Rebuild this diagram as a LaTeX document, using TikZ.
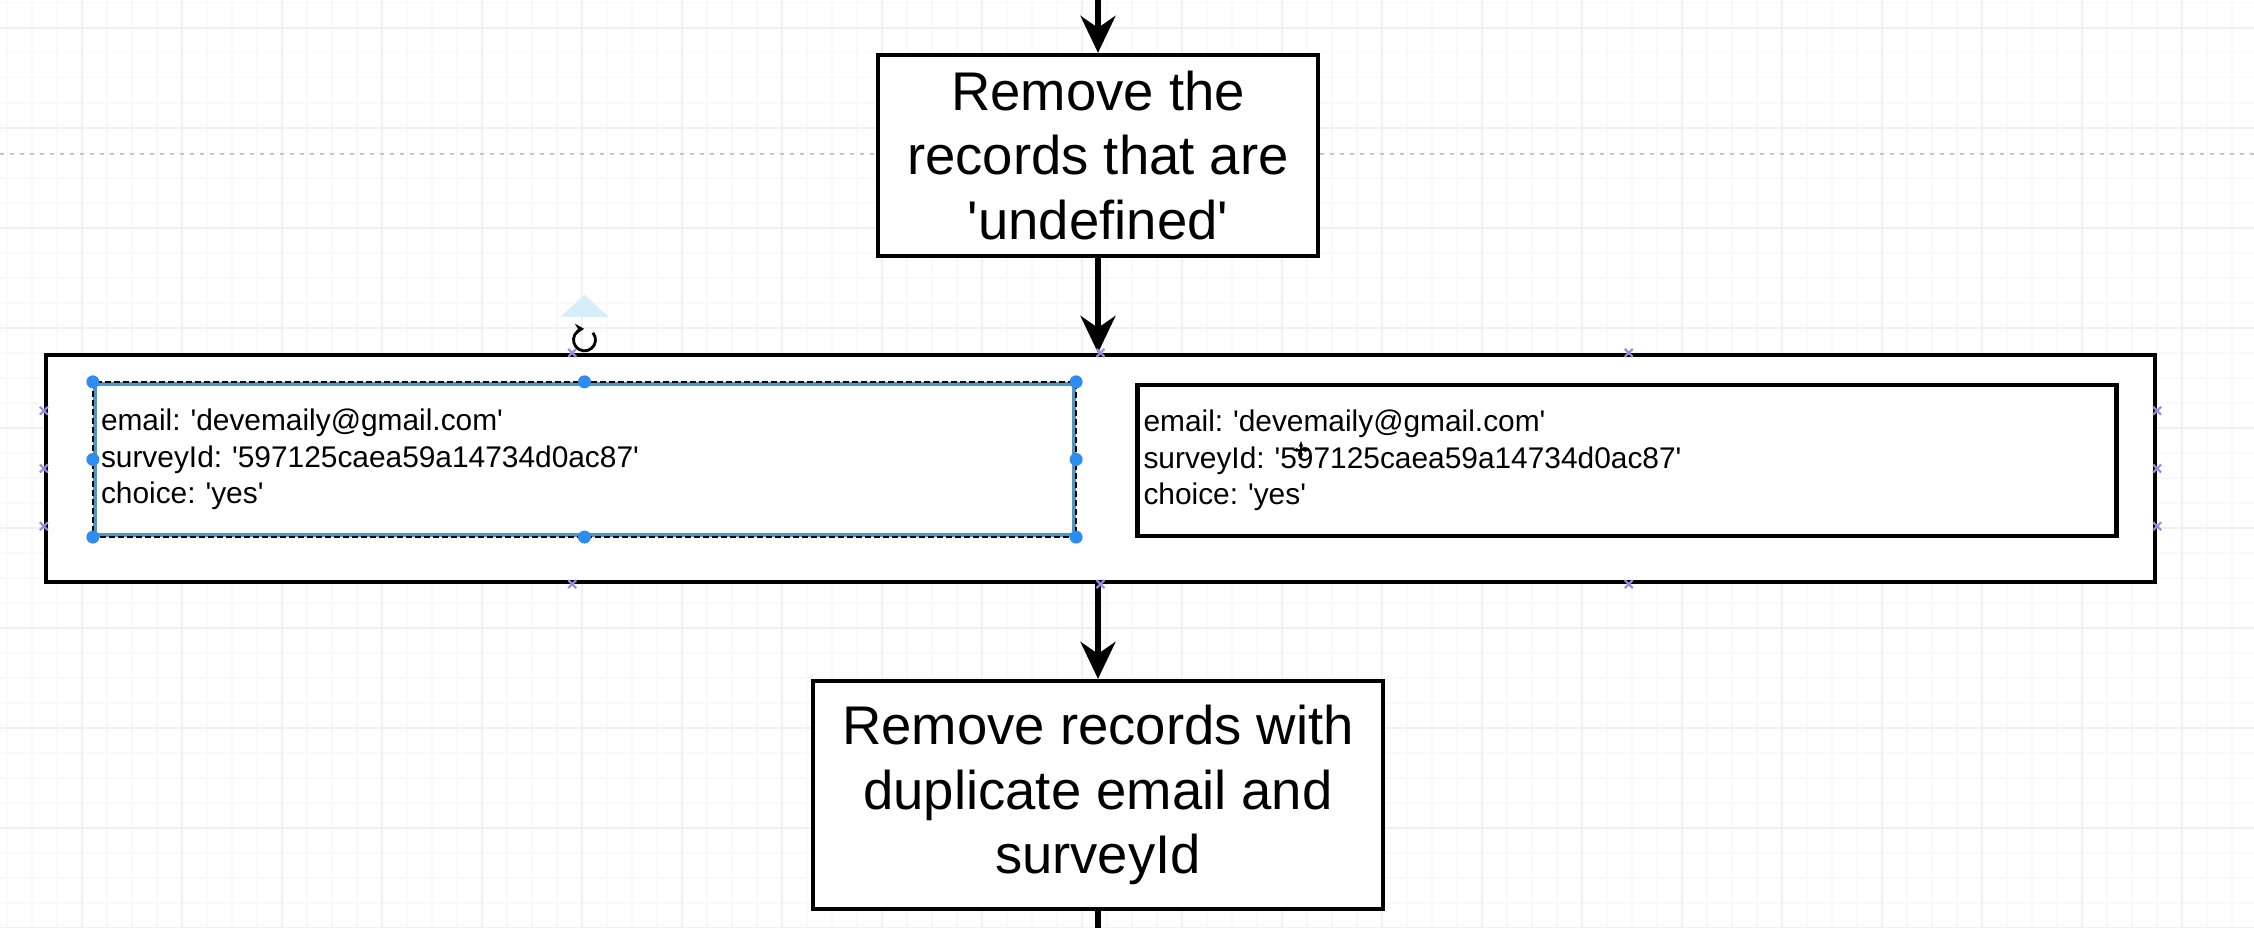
\documentclass[tikz,border=0pt]{standalone}
\usepackage{fontspec}
\setmainfont{Liberation Sans}
\usetikzlibrary{positioning,calc,arrows.meta}

\definecolor{handleblue}{RGB}{45,140,240}
\definecolor{selblue}{RGB}{80,150,190}
\definecolor{pointviolet}{RGB}{150,140,225}
\definecolor{tipblue}{RGB}{214,238,250}
\definecolor{gridmajor}{RGB}{240,240,240}
\definecolor{gridminor}{RGB}{249,249,249}
\newcommand{\sq}{\textquotesingle}
\frenchspacing

\begin{document}
\begin{tikzpicture}
	\tikzstyle{procbox} = [draw, line width=1.2pt, fill=white, align=center, inner sep=0pt, font=\fontsize{15.5}{18.45}\selectfont]
	\tikzstyle{recbox} = [draw, line width=1.2pt, fill=white, align=left, inner sep=0.06cm, text width=9.67cm, minimum height=1.51cm, font=\fontsize{8.5}{10.3}\selectfont]
	\tikzstyle{flow} = [line width=1.5pt, -{Stealth[length=3.7mm, width=3.5mm, inset=1.2mm]}]
	\tikzstyle{cpoint} = [pointviolet, line width=0.6pt]
	\useasboundingbox (0,0) rectangle (22.54,9.28);
	\clip (0,0) rectangle (22.54,9.28);
	\fill[white] (0,0) rectangle (22.54,9.28);

	% canvas grid and page break
	\draw[gridminor, line width=0.3pt, xshift=0.7mm, step=0.25] (-0.25,0) grid (22.5,9.5);
	\draw[gridmajor, line width=0.4pt, xshift=8.2mm, step=1] (-1,0) grid (22,10);
	\draw[gray!45, line width=0.8pt, dash pattern=on 0.04cm off 0.06cm] (0,7.74) -- (22.54,7.74);

	\node[procbox, minimum width=4.40cm, minimum height=2.01cm] (undef) at (10.98,7.725) {Remove the\\records that are\\\sq undefined\sq};

	\node[draw, line width=1.2pt, fill=white, inner sep=0pt, minimum width=21.09cm, minimum height=2.27cm] (records) at (11.005,4.595) {};
	\node[recbox, draw=selblue] (rec1) at (5.845,4.685) {email: \sq devemaily@gmail.com\sq\\surveyId: \sq 597125caea59a14734d0ac87\sq\\choice: \sq yes\sq};
	\node[recbox] (rec2) at (16.27,4.675) {email: \sq devemaily@gmail.com\sq\\surveyId: \sq 597125caea59a14734d0ac87\sq\\choice: \sq yes\sq};

	\node[procbox, minimum width=5.70cm, minimum height=2.28cm] (dupes) at (10.98,1.33) {Remove records with\\duplicate email and\\surveyId};

	\coordinate (in) at (10.98,9.4);
	\coordinate (out) at (10.98,-0.1);

	\draw[flow] (in) -- (undef);
	\draw[flow] (undef) -- (undef |- records.north);
	\draw[flow] (records.south -| dupes) -- (dupes);
	\draw[line width=1.5pt] (dupes) -- (out);

	% selection of the first record
	\draw[black, line width=0.7pt, dash pattern=on 0.06cm off 0.03cm] (rec1.north west) rectangle (rec1.south east);
	\fill[handleblue] (rec1.north west) circle (0.065) (rec1.north) circle (0.065) (rec1.north east) circle (0.065)
		(rec1.west) circle (0.065) (rec1.east) circle (0.065)
		(rec1.south west) circle (0.065) (rec1.south) circle (0.065) (rec1.south east) circle (0.065);
	\coordinate (rot) at ([yshift=0.42cm]rec1.north);
	\fill[tipblue] ([yshift=0.87cm]rec1.north) -- ++(-0.24,-0.22) -- ++(0.48,0) -- cycle;
	\draw[line width=0.8pt, -{Stealth[length=0.9mm, width=1.1mm]}] (rot) ++(40:0.11) arc (40:-268:0.11);
	\foreach \f in {0.25,0.5,0.75} {
		\draw[cpoint] ($(records.north west)!\f!(records.north east)$) +(-0.04,-0.04) -- +(0.04,0.04) +(-0.04,0.04) -- +(0.04,-0.04);
		\draw[cpoint] ($(records.south west)!\f!(records.south east)$) +(-0.04,-0.04) -- +(0.04,0.04) +(-0.04,0.04) -- +(0.04,-0.04);
		\draw[cpoint] ($(records.north west)!\f!(records.south west)$) +(-0.04,-0.04) -- +(0.04,0.04) +(-0.04,0.04) -- +(0.04,-0.04);
		\draw[cpoint] ($(records.north east)!\f!(records.south east)$) +(-0.04,-0.04) -- +(0.04,0.04) +(-0.04,0.04) -- +(0.04,-0.04);
	}

	% mouse cursor
	\coordinate (cursor) at (13.01,4.78);
	\draw[line width=0.8pt, {Stealth[length=0.6mm]}-{Stealth[length=0.6mm]}] ([xshift=-0.09cm]cursor) -- ([xshift=0.09cm]cursor);
	\draw[line width=0.8pt, {Stealth[length=0.6mm]}-{Stealth[length=0.6mm]}] ([yshift=-0.09cm]cursor) -- ([yshift=0.09cm]cursor);
\end{tikzpicture}
\end{document}
